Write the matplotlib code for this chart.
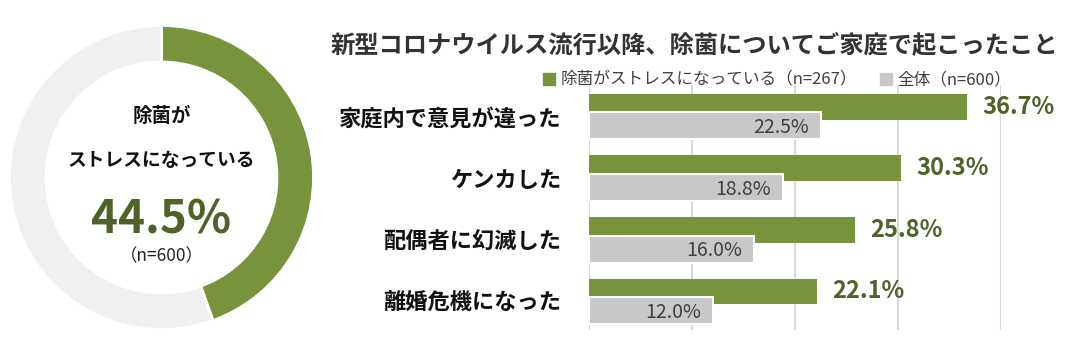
import numpy as np
import matplotlib
matplotlib.use('Agg')
import matplotlib.pyplot as plt
from matplotlib.lines import Line2D

plt.rcParams['font.family'] = ['Noto Sans CJK JP', 'DejaVu Sans']

# data
categories = ['家庭内で意見が違った', 'ケンカした', '配偶者に幻滅した', '離婚危機になった']
stress_vals = [36.7, 30.3, 25.8, 22.1]   # 除菌がストレスになっている (n=267)
all_vals = [22.5, 18.8, 16.0, 12.0]      # 全体 (n=600)
series_names = ['除菌がストレスになっている（n=267）', '全体（n=600）']
donut_share = [44.5, 55.5]
title = '新型コロナウイルス流行以降、除菌についてご家庭で起こったこと'

green = '#77933C'
dgreen = '#4F6228'
gray = '#C8C8C8'
ring_gray = '#F0F0F0'

W, H = 1079, 354
fig = plt.figure(figsize=(W / 100, H / 100), dpi=100)

# ---- donut ----
cx, cy, r = 161.5, 177.5, 152
axd = fig.add_axes([(cx - r) / W, 1 - (cy + r) / H, 2 * r / W, 2 * r / H])
axd.pie(donut_share, colors=[green, ring_gray], startangle=90, counterclock=False,
        radius=1, wedgeprops=dict(width=0.24, edgecolor='white', linewidth=2))
axd.set_xlim(-1, 1)
axd.set_ylim(-1, 1)
axd.set_aspect('equal')
axd.axis('off')
axd.text(0, 0.40, '除菌が', ha='center', va='center', fontsize=14,
         fontweight='bold', color='#111111')
axd.text(0, 0.115, 'ストレスになっている', ha='center', va='center', fontsize=13.5,
         fontweight='bold', color='#111111')
axd.text(0, -0.28, f'{donut_share[0]}%', ha='center', va='center', fontsize=33,
         fontweight='bold', color=dgreen)
axd.text(0, -0.52, '（n=600）', ha='center', va='center', fontsize=12.5, color='#222222')

# ---- bars ----
x0, x1 = 589, 1001
ytop, ybot = 85, 330
ax = fig.add_axes([x0 / W, 1 - ybot / H, (x1 - x0) / W, (ybot - ytop) / H])
ind = np.arange(len(categories))
ax.barh(ind - 0.155, stress_vals, height=0.42, color=green, zorder=2)
ax.barh(ind + 0.155, all_vals, height=0.44, color=gray, edgecolor='white',
        linewidth=1.5, zorder=3)
ax.set_xlim(0, 40)
ax.set_ylim(3.47, -0.51)
ax.set_xticks([0, 10, 20, 30, 40])
ax.xaxis.grid(True, color='#D9D9D9', linewidth=1.5, zorder=0)
ax.tick_params(axis='x', length=0, labelbottom=False)
ax.set_yticks(ind)
ax.set_yticklabels(categories, fontsize=16, fontweight='bold', color='#111111')
ax.tick_params(axis='y', length=0, pad=20)
for s in ax.spines.values():
    s.set_visible(False)

for i, (a, b) in enumerate(zip(stress_vals, all_vals)):
    ax.text(a + 1.5, i - 0.16, f'{a:.1f}%', ha='left', va='center', fontsize=17,
            fontweight='bold', color=dgreen, clip_on=False, zorder=4)
    ax.text(b - 1.1, i + 0.18, f'{b:.1f}%', ha='right', va='center', fontsize=14,
            color='#404040', zorder=4)

handles = [Line2D([], [], marker='s', linestyle='none', markersize=8, color=green),
           Line2D([], [], marker='s', linestyle='none', markersize=8, color=gray)]
fig.legend(handles, series_names, loc='center', ncol=2, frameon=False,
           bbox_to_anchor=(777 / W, 1 - 80 / H), fontsize=12, handlelength=0.8,
           handletextpad=0.3, columnspacing=1.3, labelcolor='#404040')

fig.text(694 / W, 1 - 45 / H, title, ha='center', va='center', fontsize=17.5,
         fontweight='bold', color='#333333')

plt.savefig('out.png', dpi=100)
